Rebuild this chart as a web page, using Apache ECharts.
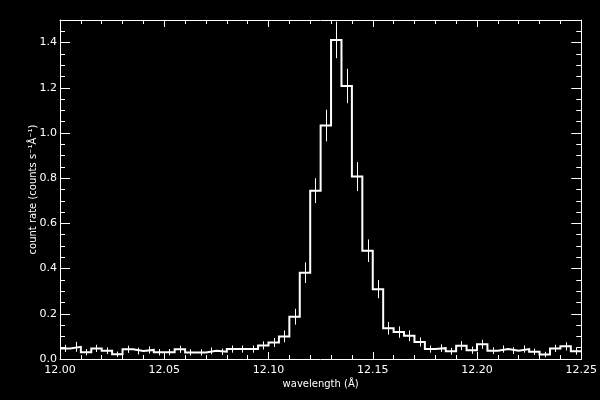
<!DOCTYPE html>
<html><head><meta charset="utf-8">
<script src="https://cdn.jsdelivr.net/npm/echarts@6/dist/echarts.min.js"></script>
<style>html,body{margin:0;padding:0;background:#000}#c{width:600px;height:400px}</style>
</head><body><div id="c"></div>
<script>
// Bin centres (Å), bin width 0.005 Å
const wavelengths = [
  12.0025, 12.0075, 12.0125, 12.0175, 12.0225, 12.0275, 12.0325, 12.0375, 12.0425, 12.0475,
  12.0525, 12.0575, 12.0625, 12.0675, 12.0725, 12.0775, 12.0825, 12.0875, 12.0925, 12.0975,
  12.1025, 12.1075, 12.1125, 12.1175, 12.1225, 12.1275, 12.1325, 12.1375, 12.1425, 12.1475,
  12.1525, 12.1575, 12.1625, 12.1675, 12.1725, 12.1775, 12.1825, 12.1875, 12.1925, 12.1975,
  12.2025, 12.2075, 12.2125, 12.2175, 12.2225, 12.2275, 12.2325, 12.2375, 12.2425, 12.2475
];
const countRates = [
  0.047, 0.054, 0.030, 0.047, 0.037, 0.021, 0.043, 0.035, 0.040, 0.030,
  0.030, 0.043, 0.029, 0.029, 0.036, 0.032, 0.044, 0.044, 0.044, 0.060,
  0.073, 0.100, 0.187, 0.382, 0.745, 1.033, 1.412, 1.208, 0.807, 0.479,
  0.309, 0.136, 0.119, 0.103, 0.075, 0.044, 0.048, 0.034, 0.059, 0.039,
  0.065, 0.037, 0.044, 0.037, 0.044, 0.032, 0.020, 0.047, 0.056, 0.034
];
const rateErrors = [
  0.016, 0.022, 0.014, 0.016, 0.015, 0.012, 0.016, 0.015, 0.016, 0.014,
  0.014, 0.016, 0.014, 0.014, 0.015, 0.014, 0.016, 0.016, 0.016, 0.018,
  0.020, 0.026, 0.035, 0.046, 0.055, 0.070, 0.081, 0.076, 0.064, 0.050,
  0.040, 0.028, 0.025, 0.024, 0.020, 0.016, 0.017, 0.015, 0.020, 0.016,
  0.020, 0.015, 0.016, 0.015, 0.016, 0.014, 0.012, 0.016, 0.018, 0.015
];
const binHalfWidth = 0.0025;
const xRange = [12.00, 12.25];
const yRange = [0, 1.5];
const xTickStep = 0.05;
const yTickStep = 0.2;
const yMinorStep = 0.05;

// Histogram outline: left edge of every bin, then the right edge of the last one
const stepData = wavelengths.map((w, i) => [w - binHalfWidth, countRates[i]]);
stepData.push([wavelengths[wavelengths.length - 1] + binHalfWidth, countRates[countRates.length - 1]]);
const errData = wavelengths.map((w, i) => [w, countRates[i], rateErrors[i]]);

const WHITE = '#ffffff';
const FONT = 'DejaVu Sans';
const lineStyle = { color: WHITE, width: 1 };

function xAx(pos, labels) {
  return {
    type: 'value', position: pos, min: xRange[0], max: xRange[1], interval: xTickStep,
    axisLine: { show: true, onZero: false, lineStyle },
    axisTick: { show: true, inside: true, length: 7, lineStyle },
    minorTick: { show: true, splitNumber: 5, length: 4, lineStyle },
    splitLine: { show: false }, minorSplitLine: { show: false },
    axisLabel: labels ? { show: true, color: WHITE, fontFamily: FONT, fontSize: 11, margin: 6,
      formatter: v => v.toFixed(2) } : { show: false },
    name: labels ? 'wavelength (Å)' : '',
    nameLocation: 'middle', nameGap: 20, nameMoveOverlap: false,
    nameTextStyle: { color: WHITE, fontFamily: FONT, fontSize: 10 }
  };
}
function yAx(pos, step, len, line, labels) {
  return {
    type: 'value', position: pos, min: yRange[0], max: yRange[1], interval: step,
    axisLine: { show: line, onZero: false, lineStyle },
    axisTick: { show: true, inside: true, length: len, lineStyle },
    splitLine: { show: false },
    axisLabel: labels ? { show: true, color: WHITE, fontFamily: FONT, fontSize: 11, margin: 3,
      showMaxLabel: false,
      formatter: v => (v > 1.45 ? '' : v.toFixed(1)) } : { show: false },
    name: labels ? 'count rate (counts s⁻¹Å⁻¹)' : '',
    nameLocation: 'middle', nameGap: 22, nameMoveOverlap: false,
    nameTextStyle: { color: WHITE, fontFamily: FONT, fontSize: 10 }
  };
}

const chart = echarts.init(document.getElementById('c'), null, { renderer: 'canvas' });
chart.setOption({
  backgroundColor: '#000000',
  animation: false,
  grid: { left: 60, right: 18, top: 20, bottom: 41, containLabel: false },
  xAxis: [xAx('bottom', true), xAx('top', false)],
  yAxis: [
    yAx('left', yTickStep, 10, true, true),
    yAx('left', yMinorStep, 5, false, false),
    yAx('right', yTickStep, 10, true, false),
    yAx('right', yMinorStep, 5, false, false)
  ],
  series: [
    {
      type: 'line', xAxisIndex: 0, yAxisIndex: 0, step: 'end', data: stepData,
      symbol: 'none', lineStyle: { color: WHITE, width: 2, join: 'miter' }, silent: true
    },
    {
      type: 'custom', xAxisIndex: 0, yAxisIndex: 0, data: errData,
      encode: { x: 0, y: 1 }, silent: true,
      renderItem: (params, api) => {
        const x = api.value(0), v = api.value(1), e = api.value(2);
        const p1 = api.coord([x, v - e]);
        const p2 = api.coord([x, v + e]);
        const px = Math.round(p1[0]) + 0.5;
        return { type: 'line', shape: { x1: px, y1: p1[1], x2: px, y2: p2[1] },
          style: { stroke: WHITE, lineWidth: 1 } };
      }
    }
  ]
});
</script>
</body></html>
